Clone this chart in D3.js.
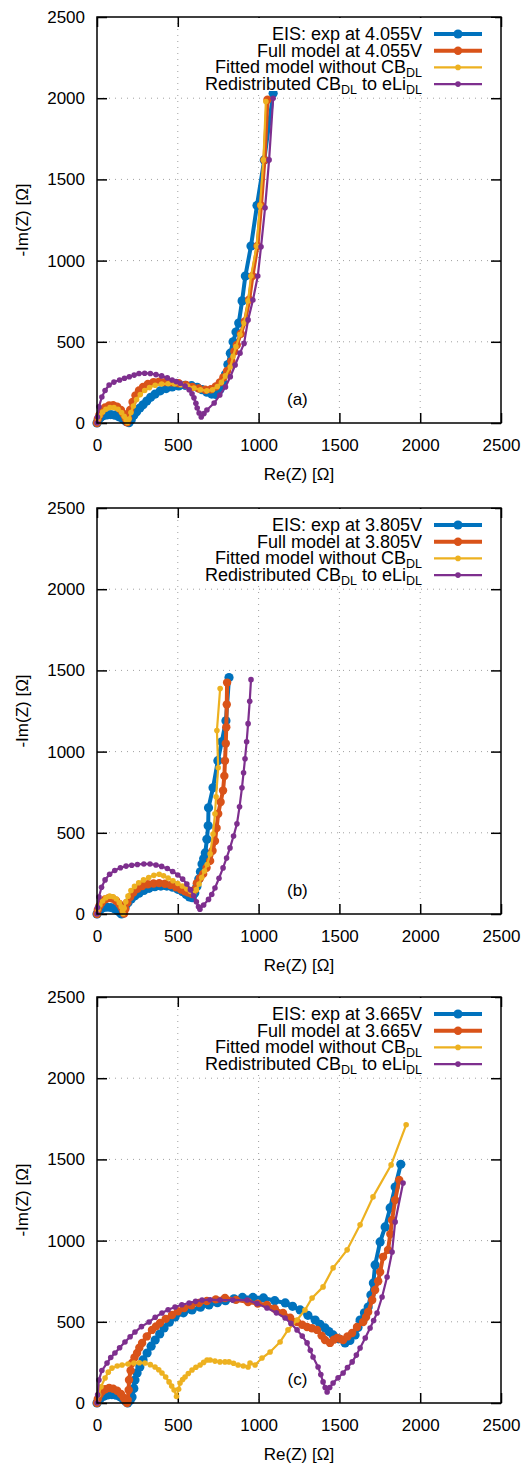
<!DOCTYPE html>
<html>
<head>
<meta charset="utf-8">
<script src="https://cdn.jsdelivr.net/npm/d3@7"></script>
<style>
body { margin: 0; background: #fff; }
text { font-family: "Liberation Sans", Arial, sans-serif; }
</style>
</head>
<body>
<script>
// ---- data: [Re(Z), -Im(Z)] in ohm ----
var panelTags = ["(a)", "(b)", "(c)"];
var voltages = ["4.055V", "3.805V", "3.665V"];
var xTicks = [0, 500, 1000, 1500, 2000, 2500];
var yTicks = [0, 500, 1000, 1500, 2000, 2500];

// panel (a) 4.055V
var expA = [[0,0],[8,18],[20,32],[38,44],[60,50],[85,52],[110,48],[135,38],[160,24],[180,10],[198,2],[212,20],[228,48],[245,70],[265,92],[285,112],[308,135],[332,158],[360,178],[392,198],[428,212],[465,222],[505,228],[545,232],[585,230],[620,220],[650,205],[680,190],[710,178],[735,176],[760,205],[778,250],[795,300],[810,360],[825,430],[842,500],[860,560],[877,615],[898,752],[918,905],[953,1090],[990,1340],[1035,1620],[1090,2030]];
var fullA = [[0,0],[5,25],[15,50],[30,75],[50,95],[75,108],[100,110],[125,100],[148,80],[165,55],[178,28],[186,5],[192,30],[205,80],[220,130],[238,170],[260,200],[285,222],[315,240],[350,252],[385,255],[420,252],[460,250],[505,245],[550,235],[590,222],[630,212],[670,205],[705,208],[735,225],[760,250],[782,280],[805,320],[832,380],[850,440],[865,480],[890,550],[915,625],[942,760],[962,905],[993,1090],[1015,1340],[1036,1620],[1055,1990]];
var fitA = [[0,0],[6,22],[18,45],[35,68],[55,85],[80,95],[105,95],[130,85],[152,65],[168,42],[180,20],[188,3],[198,25],[210,65],[225,105],[245,145],[268,175],[295,200],[325,218],[360,232],[400,240],[440,242],[480,240],[520,236],[560,228],[600,215],[640,205],[680,198],[715,205],[745,225],[770,250],[795,290],[825,345],[842,410],[860,470],[885,545],[910,615],[935,752],[953,905],[988,1090],[1009,1340],[1030,1620],[1045,1980]];
var redA = [[0,0],[3,37],[12,100],[30,160],[50,200],[75,234],[105,252],[140,265],[170,276],[200,285],[230,295],[260,305],[295,306],[330,305],[365,298],[400,290],[435,278],[465,265],[490,255],[515,245],[545,228],[570,205],[588,180],[600,155],[612,122],[620,92],[632,62],[645,37],[662,58],[680,80],[725,123],[760,172],[795,222],[825,285],[855,357],[885,430],[910,490],[935,635],[965,757],[995,905],[1015,1085],[1040,1325],[1065,1620],[1090,2000]];

// panel (b) 3.805V
var expB = [[0,0],[8,15],[20,28],[38,38],[60,42],[85,40],[108,32],[128,20],[143,8],[152,0],[162,20],[175,45],[192,70],[212,92],[235,112],[260,128],[290,145],[322,158],[358,168],[395,172],[432,172],[468,165],[500,152],[528,138],[552,120],[572,105],[590,100],[605,130],[618,170],[630,215],[640,260],[650,308],[660,340],[670,376],[680,460],[688,543],[690,654],[718,777],[748,944],[772,1060],[798,1190],[817,1456]];
var fullB = [[0,0],[5,25],[15,50],[30,72],[50,90],[72,98],[95,95],[118,82],[138,62],[152,40],[162,18],[168,3],[175,30],[188,70],[205,105],[225,132],[250,155],[280,172],[315,183],[350,188],[385,190],[420,186],[455,178],[490,165],[520,150],[545,140],[565,132],[585,125],[605,150],[618,190],[637,220],[657,247],[678,285],[700,327],[715,390],[730,450],[740,530],[750,617],[765,690],[780,760],[788,850],[792,944],[797,1050],[800,1150],[803,1290],[805,1425]];
var fitB = [[0,0],[6,28],[18,55],[35,80],[55,100],[78,110],[100,106],[120,92],[138,70],[150,45],[158,20],[162,3],[168,35],[178,75],[192,110],[210,145],[232,170],[258,192],[288,210],[320,225],[352,238],[385,245],[412,235],[440,222],[470,205],[500,188],[528,172],[555,155],[578,140],[598,125],[615,150],[632,185],[648,225],[665,265],[682,305],[700,370],[718,493],[730,617],[737,722],[750,900],[742,1130],[762,1388]];
var redB = [[0,0],[3,40],[12,105],[28,165],[50,210],[78,245],[110,268],[145,285],[180,295],[215,300],[250,305],[290,308],[328,308],[365,302],[400,293],[435,280],[468,262],[500,240],[530,215],[556,185],[578,150],[598,112],[615,75],[628,45],[637,30],[660,55],[690,90],[710,120],[730,160],[755,220],[780,284],[802,345],[823,407],[845,480],[866,555],[882,660],[897,777],[907,870],[916,956],[926,1060],[935,1172],[945,1310],[953,1443]];

// panel (c) 3.665V
var expC = [[0,0],[8,15],[22,30],[42,42],[65,50],[92,52],[118,48],[142,38],[162,24],[178,10],[190,0],[205,15],[217,37],[228,90],[235,142],[248,185],[265,222],[285,265],[310,308],[335,350],[360,388],[388,425],[415,462],[448,498],[483,530],[535,555],[588,573],[640,590],[693,604],[745,618],[795,630],[848,642],[900,650],[965,650],[1030,647],[1100,630],[1165,616],[1210,595],[1257,573],[1305,540],[1350,511],[1380,485],[1411,462],[1435,440],[1461,419],[1495,395],[1535,370],[1565,385],[1597,419],[1615,465],[1628,511],[1655,555],[1678,591],[1695,665],[1710,739],[1721,850],[1752,992],[1783,1084],[1814,1201],[1845,1330],[1880,1470]];
var fullC = [[0,0],[5,25],[15,50],[30,70],[50,85],[75,92],[100,88],[125,75],[148,55],[165,32],[178,10],[186,0],[190,18],[196,80],[198,142],[208,200],[217,246],[232,280],[248,308],[262,340],[279,370],[308,410],[340,450],[365,472],[390,493],[425,518],[464,542],[500,565],[539,585],[585,602],[631,616],[680,628],[735,638],[792,647],[860,635],[935,622],[995,612],[1052,604],[1100,580],[1151,554],[1195,525],[1238,499],[1270,482],[1300,468],[1330,460],[1362,450],[1390,415],[1411,388],[1442,370],[1465,390],[1486,400],[1505,395],[1523,388],[1550,410],[1579,431],[1609,468],[1647,499],[1665,530],[1678,560],[1703,634],[1721,696],[1740,750],[1752,807],[1770,900],[1801,943],[1815,1040],[1826,1127],[1845,1250],[1870,1374]];
var fitC = [[0,0],[10,50],[25,100],[50,154],[70,190],[93,215],[125,228],[155,234],[192,240],[229,246],[262,248],[297,246],[330,236],[359,222],[382,205],[402,185],[425,160],[446,130],[462,105],[477,80],[492,40],[505,85],[514,123],[530,145],[545,160],[565,182],[588,203],[612,220],[638,234],[660,250],[681,265],[700,265],[730,258],[761,253],[792,253],[817,253],[845,245],[873,234],[905,228],[935,222],[947,246],[978,234],[1021,277],[1071,314],[1133,376],[1182,450],[1238,511],[1287,573],[1331,647],[1399,715],[1461,832],[1548,943],[1628,1097],[1708,1269],[1820,1466],[1913,1713]];
var redC = [[0,0],[4,50],[12,142],[30,200],[62,246],[85,280],[111,308],[140,340],[173,376],[205,408],[235,437],[275,470],[322,499],[360,528],[402,554],[440,574],[483,591],[525,605],[570,616],[610,626],[650,634],[700,636],[761,634],[840,634],[929,634],[990,612],[1052,585],[1110,555],[1164,523],[1200,490],[1238,450],[1270,412],[1300,370],[1320,325],[1337,283],[1368,222],[1385,175],[1399,130],[1412,95],[1424,68],[1440,95],[1461,123],[1492,155],[1523,185],[1550,218],[1579,253],[1605,295],[1628,339],[1660,400],[1690,462],[1712,508],[1733,554],[1764,653],[1795,776],[1826,930],[1845,1115],[1894,1355]];

var panels = [[expA, fullA, fitA, redA], [expB, fullB, fitB, redB], [expC, fullC, fitC, redC]];

// ---- style ----
var colors = ["#0072bd", "#d95319", "#edb120", "#7e2f8e"];
var lineW = [4, 4, 2.2, 2.2];
var dotR = [4.6, 4.2, 2.8, 2.8];

var left = 97, plotW = 404, plotH = 406;
var tops = [17, 508, 997];

var svg = d3.select("body")
	.append("svg")
	.attr("width", 525)
	.attr("height", 1465);

for (var p = 0; p < 3; p++) {
	drawPanel(p);
}

function drawPanel(p) {
	var g = svg.append("g").attr("transform", "translate(" + left + "," + tops[p] + ")");
	var x = d3.scaleLinear().domain([0, 2500]).range([0, plotW]);
	var y = d3.scaleLinear().domain([0, 2500]).range([plotH, 0]);
	var fmt = d3.format("d");

	// dotted grid
	g.selectAll(".gx").data(xTicks.slice(1, -1)).enter()
		.append("line")
		.attr("x1", d => x(d)).attr("x2", d => x(d))
		.attr("y1", 0).attr("y2", plotH)
		.attr("stroke", "#a0a0a0").attr("stroke-width", 1)
		.attr("stroke-dasharray", "1,5");
	g.selectAll(".gy").data(yTicks.slice(1, -1)).enter()
		.append("line")
		.attr("y1", d => y(d)).attr("y2", d => y(d))
		.attr("x1", 0).attr("x2", plotW)
		.attr("stroke", "#a0a0a0").attr("stroke-width", 1)
		.attr("stroke-dasharray", "1,5");

	// axes with inward ticks on all sides
	var ax = [
		g.append("g").attr("transform", "translate(0," + plotH + ")")
			.call(d3.axisBottom(x).tickValues(xTicks).tickFormat(fmt).tickSizeInner(-10).tickSizeOuter(0).tickPadding(16)),
		g.append("g")
			.call(d3.axisLeft(y).tickValues(yTicks).tickFormat(fmt).tickSizeInner(-10).tickSizeOuter(0).tickPadding(12)),
		g.append("g")
			.call(d3.axisTop(x).tickValues(xTicks).tickSizeInner(-10).tickSizeOuter(0).tickFormat("")),
		g.append("g").attr("transform", "translate(" + plotW + ",0)")
			.call(d3.axisRight(y).tickValues(yTicks).tickSizeInner(-10).tickSizeOuter(0).tickFormat(""))
	];
	ax.forEach(function (a) {
		a.select(".domain").remove();
		a.selectAll("line").attr("stroke", "#000").attr("stroke-width", 1.5);
		a.selectAll("text").attr("font-size", 17).attr("fill", "#000")
			.attr("font-family", '"Liberation Sans", Arial, sans-serif');
	});

	// series
	var line = d3.line().x(d => x(d[0])).y(d => y(d[1]));
	panels[p].forEach(function (s, i) {
		g.append("path")
			.datum(s)
			.attr("d", line)
			.attr("fill", "none")
			.attr("stroke", colors[i])
			.attr("stroke-width", lineW[i])
			.attr("stroke-linejoin", "round");
		g.selectAll(".m" + i).data(s).enter()
			.append("circle")
			.attr("cx", d => x(d[0]))
			.attr("cy", d => y(d[1]))
			.attr("r", dotR[i])
			.attr("fill", colors[i]);
	});

	// border
	g.append("rect")
		.attr("width", plotW).attr("height", plotH)
		.attr("fill", "none").attr("stroke", "#000").attr("stroke-width", 1.5);

	// legend (opaque)
	g.append("rect")
		.attr("x", 98).attr("y", 1)
		.attr("width", 300).attr("height", 73)
		.attr("fill", "#fff");
	var names = [
		[["EIS: exp at " + voltages[p], 0]],
		[["Full model at " + voltages[p], 0]],
		[["Fitted model without CB", 0], ["DL", 1]],
		[["Redistributed CB", 0], ["DL", 1], [" to eLi", -1], ["DL", 1]]
	];
	names.forEach(function (parts, i) {
		var cy = 17 + i * 16.7;
		var t = g.append("text")
			.attr("x", 325)
			.attr("y", cy + 6)
			.attr("text-anchor", "end")
			.attr("font-size", 18)
			.attr("fill", "#000");
		parts.forEach(function (pt) {
			var ts = t.append("tspan").text(pt[0]);
			if (pt[1] == 1) ts.attr("font-size", 12.5).attr("dy", 4);
			if (pt[1] == -1) ts.attr("dy", -4);
		});
		g.append("line")
			.attr("x1", 337).attr("x2", 385)
			.attr("y1", cy).attr("y2", cy)
			.attr("stroke", colors[i]).attr("stroke-width", lineW[i]);
		g.append("circle")
			.attr("cx", 361).attr("cy", cy)
			.attr("r", dotR[i]).attr("fill", colors[i]);
	});

	// panel tag
	g.append("text")
		.attr("x", x(1240)).attr("y", y(150) + 6)
		.attr("text-anchor", "middle")
		.attr("font-size", 17)
		.text(panelTags[p]);

	// axis titles
	g.append("text")
		.attr("x", plotW / 2).attr("y", plotH + 57)
		.attr("text-anchor", "middle")
		.attr("font-size", 17)
		.text("Re(Z) [Ω]");
	g.append("text")
		.attr("transform", "translate(" + (22 - left) + "," + (plotH / 2) + ") rotate(-90)")
		.attr("dy", "0.35em")
		.attr("text-anchor", "middle")
		.attr("font-size", 17)
		.text("-Im(Z) [Ω]");
}
</script>
</body>
</html>
